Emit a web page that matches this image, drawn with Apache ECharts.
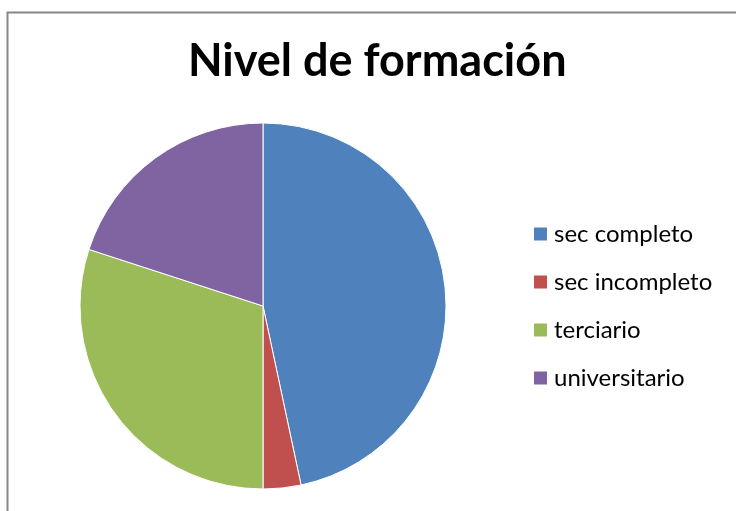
<!DOCTYPE html>
<html>
<head>
<meta charset="utf-8">
<script src="https://cdn.jsdelivr.net/npm/echarts@6/dist/echarts.min.js"></script>
<style>
html,body{margin:0;padding:0;background:#fff;}
#main{width:736px;height:511px;}
</style>
</head>
<body>
<div id="main"></div>
<script>
// datos del grafico
var categorias = ['sec completo', 'sec incompleto', 'terciario', 'universitario'];
var valores = [14, 1, 9, 6];
var colores = ['#4F81BD', '#C0504D', '#9BBB59', '#8064A2'];

var datos = [];
for (var i = 0; i < categorias.length; i++) {
  datos.push({ name: categorias[i], value: valores[i], itemStyle: { color: colores[i] } });
}

var chart = echarts.init(document.getElementById('main'));
var opt = {
  backgroundColor: '#fff',
  animation: false,
  graphic: [{
    type: 'rect',
    shape: { x: 7.5, y: 12.5, width: 800, height: 600 },
    style: { fill: 'none', stroke: '#878787', lineWidth: 2 },
    silent: true
  }],
  title: {
    text: 'Nivel de formación',
    left: 188,
    top: 39,
    padding: 0,
    textStyle: { fontFamily: 'Lato', fontWeight: 'bold', fontSize: 45, color: '#000' }
  },
  legend: {
    orient: 'vertical',
    left: 532,
    top: 222,
    padding: 0,
    icon: 'rect',
    itemWidth: 15,
    itemHeight: 15,
    itemGap: 24,
    data: categorias,
    textStyle: { fontFamily: 'Lato', fontSize: 24, color: '#000', lineHeight: 24, padding: [0, 0, 0, 1] }
  },
  series: [{
    type: 'pie',
    center: [263, 306],
    radius: [0, 183],
    startAngle: 90,
    clockwise: true,
    label: { show: false },
    labelLine: { show: false },
    itemStyle: { borderColor: '#fff', borderWidth: 1 },
    data: datos
  }]
};
chart.setOption(opt);
</script>
</body>
</html>
